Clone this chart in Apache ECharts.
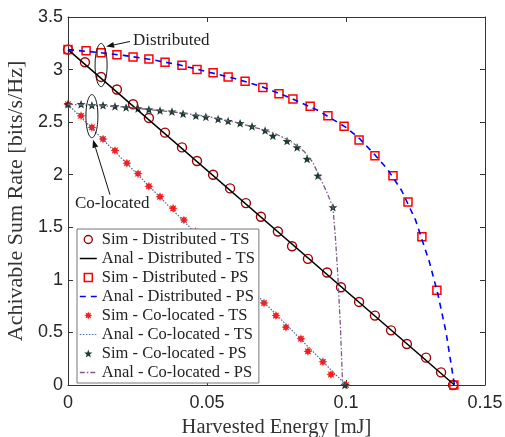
<!DOCTYPE html>
<html><head><meta charset="utf-8">
<script src="https://cdn.jsdelivr.net/npm/echarts@6/dist/echarts.min.js"></script>
<style>html,body{margin:0;padding:0;background:#fff}#c{width:505px;height:437px}</style>
</head><body><div id="c"></div>
<script>
// ---------- data ----------
const xTicks = [0, 0.05, 0.1, 0.15];
const yTicks = [0, 0.5, 1, 1.5, 2, 2.5, 3, 3.5];
const seriesNames = [
  'Sim - Distributed - TS', 'Anal - Distributed - TS',
  'Sim - Distributed - PS', 'Anal - Distributed - PS',
  'Sim - Co-located - TS', 'Anal - Co-located - TS',
  'Sim - Co-located - PS', 'Anal - Co-located - PS'
];
const distTsSimX = [0, 0.0061, 0.0119, 0.0176, 0.0234, 0.0291, 0.0349, 0.0410, 0.0464, 0.0522, 0.0583, 0.0640, 0.0694, 0.0755, 0.0806, 0.0863, 0.0932, 0.0982, 0.1047, 0.1104, 0.1162, 0.1219, 0.1288, 0.1342, 0.1385];
const distTsSimY = [3.19, 3.07, 2.93, 2.81, 2.67, 2.54, 2.40, 2.26, 2.13, 2.00, 1.87, 1.73, 1.60, 1.46, 1.32, 1.20, 1.07, 0.93, 0.79, 0.66, 0.52, 0.39, 0.26, 0.12, 0];
const distTsAnalX = [0, 0.139];
const distTsAnalY = [3.19, 0];
const distPsSimX = [0, 0.0065, 0.0119, 0.0176, 0.0234, 0.0291, 0.0349, 0.0410, 0.0464, 0.0522, 0.0576, 0.0637, 0.0701, 0.0759, 0.0809, 0.0871, 0.0935, 0.0993, 0.1047, 0.1104, 0.1169, 0.1223, 0.1273, 0.1327, 0.1388];
const distPsSimY = [3.19, 3.18, 3.16, 3.14, 3.12, 3.10, 3.07, 3.04, 3.00, 2.97, 2.93, 2.89, 2.83, 2.77, 2.72, 2.65, 2.56, 2.46, 2.33, 2.18, 1.99, 1.74, 1.41, 0.90, 0];
const distPsAnalX = [0, 0.01, 0.02, 0.03, 0.04, 0.05, 0.06, 0.07, 0.08, 0.09, 0.1, 0.105, 0.11, 0.115, 0.12, 0.125, 0.13, 0.133, 0.136, 0.139];
const distPsAnalY = [3.19, 3.165, 3.135, 3.095, 3.045, 2.98, 2.915, 2.835, 2.73, 2.61, 2.45, 2.34, 2.2, 2.05, 1.85, 1.57, 1.17, 0.87, 0.5, 0];
const coTsSimX = [0, 0.0047, 0.0086, 0.0126, 0.0169, 0.0212, 0.0252, 0.0291, 0.0331, 0.0378, 0.0417, 0.0458, 0.0500, 0.0541, 0.0583, 0.0625, 0.0665, 0.0705, 0.0748, 0.0784, 0.0838, 0.0863, 0.0917, 0.0946, 0.1];
const coTsSimY = [2.67, 2.56, 2.45, 2.34, 2.23, 2.11, 2.01, 1.89, 1.79, 1.68, 1.57, 1.46, 1.34, 1.23, 1.11, 1.00, 0.90, 0.78, 0.66, 0.55, 0.44, 0.32, 0.22, 0.10, 0];
const coTsAnalX = [0, 0.1];
const coTsAnalY = [2.67, 0];
const coPsSimX = [0, 0.0047, 0.0086, 0.0126, 0.0169, 0.0209, 0.0252, 0.0291, 0.0331, 0.0374, 0.0414, 0.0460, 0.0496, 0.0540, 0.0576, 0.0619, 0.0662, 0.0709, 0.0737, 0.0788, 0.0824, 0.0860, 0.0899, 0.0953, 0.0996];
const coPsSimY = [2.67, 2.67, 2.66, 2.66, 2.65, 2.64, 2.63, 2.62, 2.61, 2.60, 2.58, 2.56, 2.55, 2.53, 2.51, 2.49, 2.46, 2.42, 2.37, 2.32, 2.26, 2.15, 1.99, 1.69, 0];
const coPsAnalX = [0, 0.02, 0.04, 0.05, 0.06, 0.07, 0.075, 0.08, 0.085, 0.088, 0.0905, 0.093, 0.0953, 0.0962, 0.097, 0.098, 0.0988];
const coPsAnalY = [2.67, 2.645, 2.59, 2.555, 2.50, 2.43, 2.385, 2.32, 2.22, 2.12, 1.98, 1.84, 1.69, 1.40, 1.07, 0.55, 0];

// annotations (data coordinates)
const annoTexts = ['Distributed', 'Co-located'];
const annoTextPos = [[0.0234, 3.28], [0.0025, 1.724]];
const ellipseCenters = [[0.0119, 3.043], [0.0086, 2.557]];
const ellipseRadii = [0.00216, 0.205];
const arrows = [[[0.0223, 3.267], [0.0137, 3.219]], [[0.0151, 1.81], [0.0090, 2.333]]];

// ---------- helpers ----------
const zip = (xs, ys) => xs.map((x, i) => [x, ys[i]]);
function starPath(n, rIn, rot) {
  const pts = [];
  for (let i = 0; i < 2 * n; i++) {
    const r = i % 2 === 0 ? 50 : 50 * rIn;
    const a = rot + Math.PI * i / n;
    pts.push((50 + r * Math.cos(a)).toFixed(2) + ' ' + (50 + r * Math.sin(a)).toFixed(2));
  }
  return 'path://M' + pts.join(' L') + ' Z';
}
const pentagram = starPath(5, 0.42, -Math.PI / 2);
const asterisk = starPath(8, 0.55, 0);

const serif = 'Liberation Serif';
const sans = 'Liberation Sans';
const axisCol = '#333';

function simSeries(name, data, symbol, size, fill, border, bw) {
  return {
    name, type: 'line', data, symbol, symbolSize: size, symbolKeepAspect: true,
    showSymbol: true, lineStyle: { width: 0 },
    itemStyle: { color: fill, borderColor: border, borderWidth: bw },
    emphasis: { disabled: true }, z: 3
  };
}
function analSeries(name, data, color, type, width) {
  return {
    name, type: 'line', data, symbol: 'none',
    lineStyle: { color, width, type },
    itemStyle: { color },
    emphasis: { disabled: true }, z: 4
  };
}

const chart = echarts.init(document.getElementById('c'), null, { renderer: 'canvas' });
const option = {
  animation: false,
  backgroundColor: '#fff',
  grid: { left: 68, right: 20, top: 17, bottom: 52, containLabel: false, outerBoundsMode: 'none' },
  xAxis: [{
    type: 'value', min: xTicks[0], max: xTicks[xTicks.length - 1], interval: 0.05,
    position: 'bottom',
    name: 'Harvested Energy [mJ]', nameLocation: 'middle', nameGap: 29,
    nameTextStyle: { fontFamily: serif, fontSize: 20.5, color: '#333' },
    axisLine: { show: true, onZero: false, lineStyle: { color: axisCol, width: 1 } },
    axisTick: { show: true, inside: true, length: 5, lineStyle: { color: axisCol } },
    axisLabel: { fontFamily: sans, fontSize: 18, color: '#262626', margin: 9 },
    splitLine: { show: false }
  }, {
    type: 'value', min: xTicks[0], max: xTicks[xTicks.length - 1], interval: 0.05,
    position: 'top',
    axisLine: { show: true, onZero: false, lineStyle: { color: axisCol, width: 1 } },
    axisTick: { show: true, inside: true, length: 5, lineStyle: { color: axisCol } },
    axisLabel: { show: false }, splitLine: { show: false }
  }],
  yAxis: [{
    type: 'value', min: yTicks[0], max: yTicks[yTicks.length - 1], interval: 0.5,
    position: 'left',
    name: 'Achivable Sum Rate [bits/s/Hz]', nameLocation: 'middle', nameGap: 36,
    nameTextStyle: { fontFamily: serif, fontSize: 22, color: '#333' },
    axisLine: { show: true, onZero: false, lineStyle: { color: axisCol, width: 1 } },
    axisTick: { show: true, inside: true, length: 5, lineStyle: { color: axisCol } },
    axisLabel: { fontFamily: sans, fontSize: 18, color: '#262626', margin: 5 },
    splitLine: { show: false }
  }, {
    type: 'value', min: yTicks[0], max: yTicks[yTicks.length - 1], interval: 0.5,
    position: 'right',
    axisLine: { show: true, onZero: false, lineStyle: { color: axisCol, width: 1 } },
    axisTick: { show: true, inside: true, length: 5, lineStyle: { color: axisCol } },
    axisLabel: { show: false }, splitLine: { show: false }
  }],
  legend: {
    orient: 'vertical', left: 77, top: 229,
    data: seriesNames.map((n, i) => i % 2 === 1 ? { name: n, itemStyle: { opacity: 0 } } : { name: n }),
    padding: [2, 4, 2, 2], itemGap: 2, itemWidth: 17, itemHeight: 10,
    backgroundColor: '#fff', borderColor: '#777', borderWidth: 1, borderRadius: 0,
    textStyle: { fontFamily: serif, fontSize: 16.5, color: '#222' },
    itemStyle: { borderWidth: 'inherit' },
    lineStyle: { width: 'inherit' },
    selectedMode: false, z: 10
  },
  series: [
    simSeries(seriesNames[0], zip(distTsSimX, distTsSimY), 'circle', 9, 'rgba(255,255,255,0)', '#a00000', 1.4),
    analSeries(seriesNames[1], zip(distTsAnalX, distTsAnalY), '#000000', 'solid', 1.5),
    simSeries(seriesNames[2], zip(distPsSimX, distPsSimY), 'rect', 8, 'rgba(255,255,255,0)', '#ff0000', 1.5),
    analSeries(seriesNames[3], zip(distPsAnalX, distPsAnalY), '#0000ff', [6, 5], 1.6),
    simSeries(seriesNames[4], zip(coTsSimX, coTsSimY), asterisk, 9, '#ff1a1a', '#ff1a1a', 0),
    analSeries(seriesNames[5], zip(coTsAnalX, coTsAnalY), '#4a6a9a', [1.5, 1.5], 1.2),
    simSeries(seriesNames[6], zip(coPsSimX, coPsSimY), pentagram, 9, '#183d2c', '#183d2c', 0),
    analSeries(seriesNames[7], zip(coPsAnalX, coPsAnalY), '#7d5b85', [5, 2, 1.5, 2], 1.3)
  ]
};
chart.setOption(option);

// ---------- annotations (converted from data coords) ----------
const toPx = p => chart.convertToPixel({ gridIndex: 0 }, p);
const graphics = [];
ellipseCenters.forEach(c => {
  const cp = toPx(c);
  const ep = toPx([c[0] + ellipseRadii[0], c[1] + ellipseRadii[1]]);
  const rx = Math.abs(ep[0] - cp[0]), ry = Math.abs(ep[1] - cp[1]);
  const pts = [];
  for (let i = 0; i < 64; i++) {
    const a = 2 * Math.PI * i / 64;
    pts.push([cp[0] + rx * Math.cos(a), cp[1] + ry * Math.sin(a)]);
  }
  graphics.push({ type: 'polygon', shape: { points: pts }, style: { fill: null, stroke: '#111', lineWidth: 1 }, z: 20, silent: true });
});
arrows.forEach(a => {
  const t = toPx(a[0]), h = toPx(a[1]);
  const dx = h[0] - t[0], dy = h[1] - t[1];
  const L = Math.hypot(dx, dy), ux = dx / L, uy = dy / L;
  const hl = 8, hw = 3;
  const bx = h[0] - ux * hl, by = h[1] - uy * hl;
  graphics.push({ type: 'line', shape: { x1: t[0], y1: t[1], x2: bx, y2: by }, style: { stroke: '#111', lineWidth: 1 }, z: 20, silent: true });
  graphics.push({ type: 'polygon', shape: { points: [[h[0], h[1]], [bx - uy * hw, by + ux * hw], [bx + uy * hw, by - ux * hw]] }, style: { fill: '#111' }, z: 20, silent: true });
});
annoTexts.forEach((s, i) => {
  const p = toPx(annoTextPos[i]);
  graphics.push({ type: 'text', x: p[0], y: p[1], style: { text: s, font: '17px "Liberation Serif"', fill: '#222', align: 'left', verticalAlign: 'middle' }, z: 20, silent: true });
});
chart.setOption({ graphic: graphics });
</script>
</body></html>
